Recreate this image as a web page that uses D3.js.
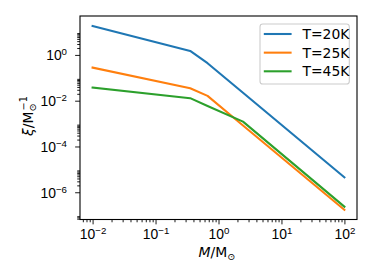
<!DOCTYPE html>
<html>
<head>
<meta charset="utf-8">
<script src="https://cdn.jsdelivr.net/npm/d3@7"></script>
<style>
  html, body { margin: 0; padding: 0; background: #fff; }
  svg { display: block; font-family: "DejaVu Sans", sans-serif; }
</style>
</head>
<body>
<svg id="chart" width="374" height="280"></svg>
<script>
// ---- data ----
const masses = [0.01, 0.355, 0.67, 2.45, 100];
const xiT20 = [18.5, 1.5, 0.434, 0.0221, 4.5e-6];
const xiT25 = [0.279, 0.0351, 0.0162, 8.3e-4, 1.7e-7];
const xiT45 = [0.0372, 0.0129, 5.9e-3, 1.22e-3, 2.34e-7];
const seriesLabels = ["T=20K", "T=25K", "T=45K"];
const seriesColors = ["#1f77b4", "#ff7f0e", "#2ca02c"];
const xMajorTicks = [1e-2, 1e-1, 1e0, 1e1, 1e2];
const yMajorTicks = [1e0, 1e-2, 1e-4, 1e-6];

const series = [xiT20, xiT25, xiT45].map((vals, i) => ({
  label: seriesLabels[i], color: seriesColors[i],
  points: masses.map((m, j) => [m, vals[j]])
}));

// ---- layout ----
const L = 80, R = 357, T = 16, B = 219.5;
const FS = 13.9, SUP = 9.7;
const majorLen = 4.86, minorLen = 2.78, pad = 4.86;

const svg = d3.select("#chart");
const x = d3.scaleLog().domain([Math.pow(10, -2.2), Math.pow(10, 2.2)]).range([L, R]);
const y = d3.scaleLog().domain([Math.pow(10, -7.19), Math.pow(10, 1.70)]).range([B, T]);

// minor ticks
const xMinor = [];
for (let e = -3; e <= 2; e++) for (let k = 2; k <= 9; k++) {
  const v = k * Math.pow(10, e);
  if (v >= x.domain()[0] && v <= x.domain()[1]) xMinor.push(v);
}
const yMinor = [];
for (let e = -8; e <= 0; e += 2) for (let k = 2; k <= 9; k++) {
  const v = k * Math.pow(10, e);
  if (v >= y.domain()[0] && v <= y.domain()[1]) yMinor.push(v);
}

function styleAxis(g) {
  g.select(".domain").remove();
  g.selectAll(".tick line").attr("stroke", "#000").attr("stroke-width", 0.9);
}
function expText(d) {
  const e = Math.round(Math.log10(d));
  return (e < 0 ? "\u2212" : "") + Math.abs(e);
}

// x axis
const gxMinor = svg.append("g").attr("transform", `translate(0,${B})`)
  .call(d3.axisBottom(x).tickValues(xMinor).tickSize(minorLen).tickSizeOuter(0).tickFormat(() => ""));
styleAxis(gxMinor);
const gx = svg.append("g").attr("transform", `translate(0,${B})`)
  .call(d3.axisBottom(x).tickValues(xMajorTicks).tickSize(majorLen).tickSizeOuter(0).tickFormat(() => ""));
styleAxis(gx);
gx.selectAll(".tick text").each(function(d) {
  const t = d3.select(this);
  t.attr("y", 19).attr("dy", null).attr("fill", "#000")
   .attr("font-size", FS).attr("text-anchor", "middle");
  t.append("tspan").text("10");
  t.append("tspan").attr("dy", -5).attr("font-size", SUP).text(expText(d));
});

// y axis
const gyMinor = svg.append("g").attr("transform", `translate(${L},0)`)
  .call(d3.axisLeft(y).tickValues(yMinor).tickSize(minorLen).tickSizeOuter(0).tickFormat(() => ""));
styleAxis(gyMinor);
const gy = svg.append("g").attr("transform", `translate(${L},0)`)
  .call(d3.axisLeft(y).tickValues(yMajorTicks).tickSize(majorLen).tickSizeOuter(0).tickFormat(() => ""));
styleAxis(gy);
gy.selectAll(".tick text").each(function(d) {
  const t = d3.select(this);
  t.attr("x", -13).attr("y", 4.8).attr("dy", null).attr("fill", "#000")
   .attr("font-size", FS).attr("text-anchor", "end");
  t.append("tspan").text("10");
  t.append("tspan").attr("dy", -5).attr("font-size", SUP).text(expText(d));
});

// lines
const line = d3.line().x(d => x(d[0])).y(d => y(d[1]));
const plot = svg.append("g");
series.forEach(s => {
  plot.append("path").attr("d", line(s.points))
    .attr("fill", "none").attr("stroke", s.color)
    .attr("stroke-width", 2.08).attr("stroke-linejoin", "round").attr("stroke-linecap", "square");
});

// frame
svg.append("rect").attr("x", L).attr("y", T).attr("width", R - L).attr("height", B - T)
  .attr("fill", "none").attr("stroke", "#000").attr("stroke-width", 1.1);

// legend
const lg = svg.append("g");
lg.append("rect").attr("x", 260).attr("y", 24).attr("width", 89.3).attr("height", 60)
  .attr("rx", 2.8).attr("fill", "#fff").attr("fill-opacity", 0.8)
  .attr("stroke", "#cccccc").attr("stroke-width", 1.1);
series.forEach((s, i) => {
  const yy = 34 + i * 18.65;
  lg.append("line").attr("x1", 263.8).attr("x2", 291.6).attr("y1", yy).attr("y2", yy)
    .attr("stroke", s.color).attr("stroke-width", 2.08);
  lg.append("text").attr("x", 302.5).attr("y", yy + 5).attr("font-size", FS)
    .attr("fill", "#000").text(s.label);
});

// x label
const xl = svg.append("text").attr("x", 217).attr("y", 257.3).attr("text-anchor", "middle")
  .attr("font-size", FS).attr("fill", "#000");
xl.append("tspan").attr("font-style", "italic").text("M");
xl.append("tspan").text("/M");
xl.append("tspan").attr("dy", 3).attr("font-size", SUP).text("\u2299");

// y label
const yl = svg.append("text").attr("transform", "translate(33,116) rotate(-90)")
  .attr("text-anchor", "middle").attr("font-size", FS).attr("fill", "#000");
yl.append("tspan").attr("font-style", "italic").text("\u03BE");
yl.append("tspan").text("/M");
yl.append("tspan").attr("dy", 3).attr("font-size", SUP).text("\u2299");
yl.append("tspan").attr("dy", -9).attr("dx", -7).attr("font-size", SUP).text("\u22121");
</script>
</body>
</html>
